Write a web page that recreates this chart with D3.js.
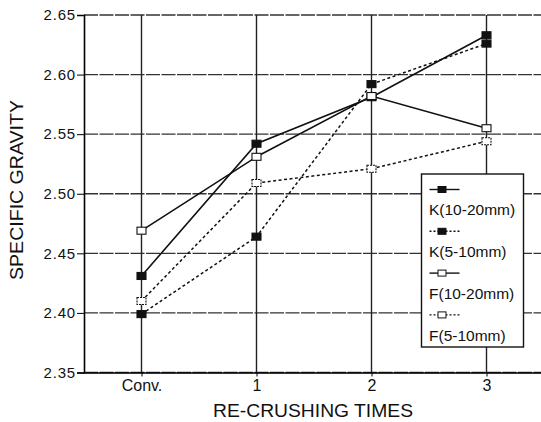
<!DOCTYPE html>
<html>
<head>
<meta charset="utf-8">
<script src="https://cdn.jsdelivr.net/npm/d3@7"></script>
<style>
    body { margin: 0; background: #fff; }
    text { font-family: "Liberation Sans", Arial, sans-serif; fill: #111; }
</style>
</head>
<body>
<div id="chart"></div>
<script>
const categories = ['Conv.', '1', '2', '3'];
const seriesNames = ['K(10-20mm)', 'K(5-10mm)', 'F(10-20mm)', 'F(5-10mm)'];
const k1020 = [2.431, 2.542, 2.581, 2.633];
const k510 = [2.399, 2.464, 2.592, 2.626];
const f1020 = [2.469, 2.531, 2.582, 2.555];
const f510 = [2.410, 2.509, 2.521, 2.544];
const yTicks = [2.35, 2.40, 2.45, 2.50, 2.55, 2.60, 2.65];

const svgWidth = 541;
const svgHeight = 422;
const margin = { top: 15, left: 84, right: 0, bottom: 49.5 };
const width = svgWidth - margin.left - margin.right;
const height = svgHeight - margin.top - margin.bottom;

const series = [
    { name: seriesNames[0], values: k1020, dashed: false, filled: true },
    { name: seriesNames[1], values: k510, dashed: true, filled: true },
    { name: seriesNames[2], values: f1020, dashed: false, filled: false },
    { name: seriesNames[3], values: f510, dashed: true, filled: false }
];

const svg = d3.select('#chart').append('svg')
    .attr('width', svgWidth)
    .attr('height', svgHeight);

const g = svg.append('g')
    .attr('transform', `translate(${margin.left},${margin.top})`);

const x = d3.scalePoint()
    .domain(categories)
    .range([0, 460])
    .padding(0.5);

const y = d3.scaleLinear()
    .domain([2.35, 2.65])
    .range([height, 0]);

// Grid
g.selectAll('.hgrid')
    .data(yTicks)
    .enter()
    .append('line')
    .attr('x1', 0)
    .attr('x2', width)
    .attr('y1', d => y(d))
    .attr('y2', d => y(d))
    .attr('stroke', '#333')
    .attr('stroke-width', 1.4)
    .attr('stroke-dasharray', '14,1.5');

g.selectAll('.vgrid')
    .data(categories)
    .enter()
    .append('line')
    .attr('x1', d => x(d))
    .attr('x2', d => x(d))
    .attr('y1', 0)
    .attr('y2', height)
    .attr('stroke', '#222')
    .attr('stroke-width', 1.4);

// Axes
const yAxis = g.append('g')
    .call(d3.axisLeft(y).tickValues(yTicks).tickFormat(d3.format('.2f')).tickSize(7).tickPadding(1));
yAxis.select('.domain').attr('stroke-width', 1.6);
yAxis.selectAll('text')
    .style('font-size', '15px')
    .style('letter-spacing', '0.8px')
    .attr('fill', '#111');

const xAxis = g.append('g')
    .attr('transform', `translate(0,${height})`)
    .call(d3.axisBottom(x).tickSize(4).tickPadding(3).tickSizeOuter(0));
xAxis.select('.domain').attr('stroke-width', 1.6);
xAxis.selectAll('text').style('font-size', '16px').attr('fill', '#111');

// Axis titles
svg.append('text')
    .attr('transform', 'translate(17,190) rotate(-90)')
    .attr('dy', '0.35em')
    .attr('textLength', 180)
    .attr('lengthAdjust', 'spacingAndGlyphs')
    .style('text-anchor', 'middle')
    .style('font-size', '18.5px')
    .text('SPECIFIC GRAVITY');

svg.append('text')
    .attr('x', 313)
    .attr('y', 410)
    .attr('dy', '0.35em')
    .attr('textLength', 200)
    .attr('lengthAdjust', 'spacingAndGlyphs')
    .style('text-anchor', 'middle')
    .style('font-size', '19px')
    .text('RE-CRUSHING TIMES');

// Lines
const line = d3.line()
    .x((d, i) => x(categories[i]))
    .y(d => y(d));

g.selectAll('.series')
    .data(series)
    .enter()
    .append('path')
    .attr('d', d => line(d.values))
    .attr('fill', 'none')
    .attr('stroke', '#111')
    .attr('stroke-width', d => d.dashed ? 1.5 : 1.6)
    .attr('stroke-dasharray', d => d.dashed ? '3,2.5' : null);

// Markers
series.forEach(s => {
    g.selectAll(null)
        .data(s.values)
        .enter()
        .append('rect')
        .attr('x', (d, i) => x(categories[i]) - 4.5)
        .attr('y', d => y(d) - 3.5)
        .attr('width', 9)
        .attr('height', 7)
        .attr('fill', s.filled ? '#111' : '#fff')
        .attr('stroke', '#111')
        .attr('stroke-width', 1.1)
        .attr('stroke-dasharray', !s.filled && s.dashed ? '2,1' : null);
});

// Legend
const legend = svg.append('g')
    .attr('transform', 'translate(421.5,174)');

legend.append('rect')
    .attr('width', 102)
    .attr('height', 173)
    .attr('fill', '#fff')
    .attr('stroke', '#111')
    .attr('stroke-width', 1.4);

const item = legend.selectAll('.item')
    .data(series)
    .enter()
    .append('g')
    .attr('transform', (d, i) => `translate(0,${15.5 + i * 41.8})`);

item.append('line')
    .attr('x1', 8)
    .attr('x2', 38)
    .attr('y1', 0)
    .attr('y2', 0)
    .attr('stroke', '#111')
    .attr('stroke-width', 1.4)
    .attr('stroke-dasharray', d => d.dashed ? '2,2' : null);

item.append('rect')
    .attr('x', 16.5)
    .attr('y', -3)
    .attr('width', 8)
    .attr('height', 6)
    .attr('fill', d => d.filled ? '#111' : '#fff')
    .attr('stroke', '#111')
    .attr('stroke-width', 1);

item.append('text')
    .attr('x', 7.5)
    .attr('y', 20.5)
    .attr('dy', '0.35em')
    .style('font-size', '15.5px')
    .text(d => d.name);
</script>
</body>
</html>
